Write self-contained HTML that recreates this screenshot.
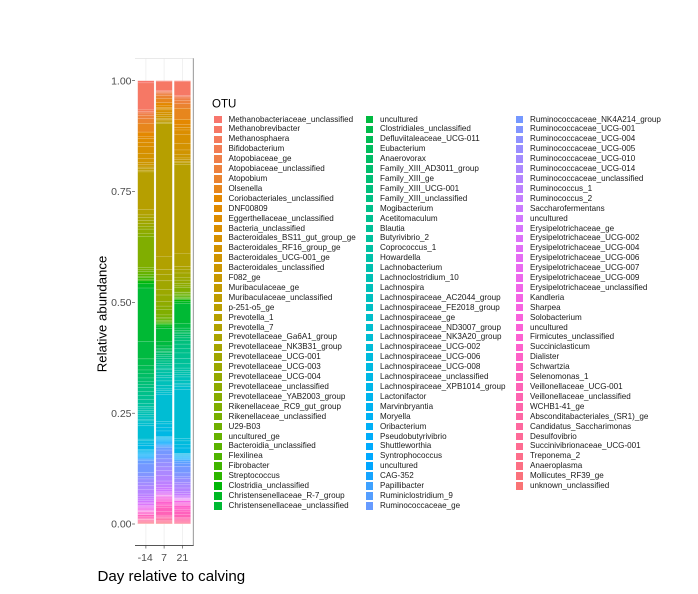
<!DOCTYPE html>
<html>
<head>
<meta charset="utf-8">
<style>
  html,body{margin:0;padding:0;background:#fff;}
  #wrap{position:relative;width:698px;height:594px;overflow:hidden;background:#fff;font-family:"Liberation Sans",Arial,sans-serif;}
  svg{position:absolute;left:0;top:0;}
  .lg{position:absolute;top:114.55px;font-size:8.1px;color:#1a1a1a;}
  .lg div{position:relative;height:9.91px;line-height:9.91px;padding-left:14.5px;white-space:nowrap;}
  .lg i{position:absolute;left:0;top:1.2px;width:7.5px;height:7.5px;}
</style>
</head>
<body>
<div id="wrap">
<svg width="698" height="594" viewBox="0 0 698 594" xmlns="http://www.w3.org/2000/svg">
  <rect x="0" y="0" width="698" height="594" fill="#fff"/>
  <g stroke="#ebebeb" stroke-width="0.7">
    <line x1="145.9" y1="58.5" x2="145.9" y2="545.5"/>
    <line x1="164.1" y1="58.5" x2="164.1" y2="545.5"/>
    <line x1="182.4" y1="58.5" x2="182.4" y2="545.5"/>
  </g>
  <line x1="135" y1="58.5" x2="193.3" y2="58.5" stroke="#e2e2e2" stroke-width="0.7"/>
  <g id="bars"></g>
  <line x1="193.3" y1="58.3" x2="193.3" y2="545.8" stroke="#8a8a8a" stroke-width="0.9"/>
  <line x1="135" y1="545.5" x2="193.6" y2="545.5" stroke="#555" stroke-width="0.9"/>
  <g stroke="#333" stroke-width="0.6">
    <line x1="132" y1="80.7" x2="135" y2="80.7"/>
    <line x1="132" y1="191.5" x2="135" y2="191.5"/>
    <line x1="132" y1="302.3" x2="135" y2="302.3"/>
    <line x1="132" y1="413.2" x2="135" y2="413.2"/>
    <line x1="132" y1="524" x2="135" y2="524"/>
    <line x1="145.9" y1="545.5" x2="145.9" y2="548.5"/>
    <line x1="164.1" y1="545.5" x2="164.1" y2="548.5"/>
    <line x1="182.4" y1="545.5" x2="182.4" y2="548.5"/>
  </g>
  <g font-family="Liberation Sans, Arial, sans-serif" font-size="10.5" fill="#4d4d4d" text-anchor="end">
    <text x="131.5" y="84.4">1.00</text>
    <text x="131.5" y="195.2">0.75</text>
    <text x="131.5" y="306">0.50</text>
    <text x="131.5" y="416.9">0.25</text>
    <text x="131.5" y="527.7">0.00</text>
  </g>
  <g font-family="Liberation Sans, Arial, sans-serif" font-size="10.5" fill="#4d4d4d" text-anchor="middle">
    <text x="145.2" y="561">-14</text>
    <text x="164.1" y="561">7</text>
    <text x="182.4" y="561">21</text>
  </g>
  <text x="97.5" y="581" font-family="Liberation Sans, Arial, sans-serif" font-size="15.1" fill="#000">Day relative to calving</text>
  <text transform="translate(106.5,314) rotate(-90)" text-anchor="middle" font-family="Liberation Sans, Arial, sans-serif" font-size="13.2" fill="#000">Relative abundance</text>
  <text x="212" y="107.5" font-family="Liberation Sans, Arial, sans-serif" font-size="11.5" fill="#000">OTU</text>
</svg>

<div class="lg" style="left:214px;">
<div><i></i>Methanobacteriaceae_unclassified</div>
<div><i></i>Methanobrevibacter</div>
<div><i></i>Methanosphaera</div>
<div><i></i>Bifidobacterium</div>
<div><i></i>Atopobiaceae_ge</div>
<div><i></i>Atopobiaceae_unclassified</div>
<div><i></i>Atopobium</div>
<div><i></i>Olsenella</div>
<div><i></i>Coriobacteriales_unclassified</div>
<div><i></i>DNF00809</div>
<div><i></i>Eggerthellaceae_unclassified</div>
<div><i></i>Bacteria_unclassified</div>
<div><i></i>Bacteroidales_BS11_gut_group_ge</div>
<div><i></i>Bacteroidales_RF16_group_ge</div>
<div><i></i>Bacteroidales_UCG-001_ge</div>
<div><i></i>Bacteroidales_unclassified</div>
<div><i></i>F082_ge</div>
<div><i></i>Muribaculaceae_ge</div>
<div><i></i>Muribaculaceae_unclassified</div>
<div><i></i>p-251-o5_ge</div>
<div><i></i>Prevotella_1</div>
<div><i></i>Prevotella_7</div>
<div><i></i>Prevotellaceae_Ga6A1_group</div>
<div><i></i>Prevotellaceae_NK3B31_group</div>
<div><i></i>Prevotellaceae_UCG-001</div>
<div><i></i>Prevotellaceae_UCG-003</div>
<div><i></i>Prevotellaceae_UCG-004</div>
<div><i></i>Prevotellaceae_unclassified</div>
<div><i></i>Prevotellaceae_YAB2003_group</div>
<div><i></i>Rikenellaceae_RC9_gut_group</div>
<div><i></i>Rikenellaceae_unclassified</div>
<div><i></i>U29-B03</div>
<div><i></i>uncultured_ge</div>
<div><i></i>Bacteroidia_unclassified</div>
<div><i></i>Flexilinea</div>
<div><i></i>Fibrobacter</div>
<div><i></i>Streptococcus</div>
<div><i></i>Clostridia_unclassified</div>
<div><i></i>Christensenellaceae_R-7_group</div>
<div><i></i>Christensenellaceae_unclassified</div>
</div>

<div class="lg" style="left:365.5px;">
<div><i></i>uncultured</div>
<div><i></i>Clostridiales_unclassified</div>
<div><i></i>Defluviitaleaceae_UCG-011</div>
<div><i></i>Eubacterium</div>
<div><i></i>Anaerovorax</div>
<div><i></i>Family_XIII_AD3011_group</div>
<div><i></i>Family_XIII_ge</div>
<div><i></i>Family_XIII_UCG-001</div>
<div><i></i>Family_XIII_unclassified</div>
<div><i></i>Mogibacterium</div>
<div><i></i>Acetitomaculum</div>
<div><i></i>Blautia</div>
<div><i></i>Butyrivibrio_2</div>
<div><i></i>Coprococcus_1</div>
<div><i></i>Howardella</div>
<div><i></i>Lachnobacterium</div>
<div><i></i>Lachnoclostridium_10</div>
<div><i></i>Lachnospira</div>
<div><i></i>Lachnospiraceae_AC2044_group</div>
<div><i></i>Lachnospiraceae_FE2018_group</div>
<div><i></i>Lachnospiraceae_ge</div>
<div><i></i>Lachnospiraceae_ND3007_group</div>
<div><i></i>Lachnospiraceae_NK3A20_group</div>
<div><i></i>Lachnospiraceae_UCG-002</div>
<div><i></i>Lachnospiraceae_UCG-006</div>
<div><i></i>Lachnospiraceae_UCG-008</div>
<div><i></i>Lachnospiraceae_unclassified</div>
<div><i></i>Lachnospiraceae_XPB1014_group</div>
<div><i></i>Lactonifactor</div>
<div><i></i>Marvinbryantia</div>
<div><i></i>Moryella</div>
<div><i></i>Oribacterium</div>
<div><i></i>Pseudobutyrivibrio</div>
<div><i></i>Shuttleworthia</div>
<div><i></i>Syntrophococcus</div>
<div><i></i>uncultured</div>
<div><i></i>CAG-352</div>
<div><i></i>Papillibacter</div>
<div><i></i>Ruminiclostridium_9</div>
<div><i></i>Ruminococcaceae_ge</div>
</div>

<div class="lg" style="left:515.5px;">
<div><i></i>Ruminococcaceae_NK4A214_group</div>
<div><i></i>Ruminococcaceae_UCG-001</div>
<div><i></i>Ruminococcaceae_UCG-004</div>
<div><i></i>Ruminococcaceae_UCG-005</div>
<div><i></i>Ruminococcaceae_UCG-010</div>
<div><i></i>Ruminococcaceae_UCG-014</div>
<div><i></i>Ruminococcaceae_unclassified</div>
<div><i></i>Ruminococcus_1</div>
<div><i></i>Ruminococcus_2</div>
<div><i></i>Saccharofermentans</div>
<div><i></i>uncultured</div>
<div><i></i>Erysipelotrichaceae_ge</div>
<div><i></i>Erysipelotrichaceae_UCG-002</div>
<div><i></i>Erysipelotrichaceae_UCG-004</div>
<div><i></i>Erysipelotrichaceae_UCG-006</div>
<div><i></i>Erysipelotrichaceae_UCG-007</div>
<div><i></i>Erysipelotrichaceae_UCG-009</div>
<div><i></i>Erysipelotrichaceae_unclassified</div>
<div><i></i>Kandleria</div>
<div><i></i>Sharpea</div>
<div><i></i>Solobacterium</div>
<div><i></i>uncultured</div>
<div><i></i>Firmicutes_unclassified</div>
<div><i></i>Succiniclasticum</div>
<div><i></i>Dialister</div>
<div><i></i>Schwartzia</div>
<div><i></i>Selenomonas_1</div>
<div><i></i>Veillonellaceae_UCG-001</div>
<div><i></i>Veillonellaceae_unclassified</div>
<div><i></i>WCHB1-41_ge</div>
<div><i></i>Absconditabacteriales_(SR1)_ge</div>
<div><i></i>Candidatus_Saccharimonas</div>
<div><i></i>Desulfovibrio</div>
<div><i></i>Succinivibrionaceae_UCG-001</div>
<div><i></i>Treponema_2</div>
<div><i></i>Anaeroplasma</div>
<div><i></i>Mollicutes_RF39_ge</div>
<div><i></i>unknown_unclassified</div>
</div>
</div>

<script>
(function(){
  function hcl(h,c,l){
    var WX=95.047,WY=100,WZ=108.883;
    var den=WX+15*WY+3*WZ, uN=4*WX/den, vN=9*WY/den;
    var hr=h*Math.PI/180, U=c*Math.cos(hr), V=c*Math.sin(hr);
    var Y=WY*(l>7.999592?Math.pow((l+16)/116,3):l/903.3);
    var u=U/(13*l)+uN, v=V/(13*l)+vN;
    var X=9*Y*u/(4*v);
    var Z=-X/3-5*Y+3*Y/v;
    function g(t){t=t>0.00304?1.055*Math.pow(t,1/2.4)-0.055:12.92*t;t=Math.max(0,Math.min(1,t));return Math.round(t*255);}
    var R=g((3.240479*X-1.537150*Y-0.498535*Z)/WY);
    var G=g((-0.969256*X+1.875992*Y+0.041556*Z)/WY);
    var B=g((0.055648*X-0.204043*Y+1.057311*Z)/WY);
    return 'rgb('+R+','+G+','+B+')';
  }
  var N=118, cols=[];
  for(var i=0;i<N;i++) cols.push(hcl(15+360*i/N,100,65));

  var d1=[.005,.060,.005,.003,.005,.008,.010,.020,.010,.005,
  .008,.010,.015,.012,.008,.006,.005,.004,.004,.003,
  .085,.012,.006,.006,.008,.006,.006,.010,.006,.070,
  .006,.004,.006,.005,.003,.004,.003,.006,.010,.120,
  .040,.015,.010,.008,.010,.008,.007,.006,.010,.008,
  .010,.008,.007,.004,.005,.004,.005,.006,.005,.004,
  .005,.006,.030,.004,.005,.005,.010,.002,.002,.002,
  .002,.002,.002,.002,.002,.002,.002,.002,.003,.007,
  .020,.008,.006,.008,.006,.010,.010,.006,.005,.004,
  .004,.003,.003,.002,.002,.002,.002,.002,.002,.001,
  .001,.001,.001,.003,.002,.001,.004,.003,.002,.001,
  .001,.002,.001,.002,.002,.001,.0006,.001];
  var d2=[.002,.021,.002,.002,.003,.004,.006,.010,.006,.004,
  .003,.003,.006,.005,.004,.004,.003,.003,.003,.003,
  .300,.030,.010,.015,.020,.012,.015,.010,.008,.012,
  .005,.004,.003,.003,.002,.002,.002,.004,.005,.030,
  .010,.005,.004,.003,.003,.004,.004,.005,.006,.005,
  .006,.005,.004,.006,.006,.005,.008,.010,.008,.004,
  .004,.005,.060,.006,.008,.008,.012,.002,.002,.002,
  .002,.002,.002,.002,.002,.002,.002,.003,.003,.005,
  .010,.010,.008,.010,.008,.012,.012,.008,.006,.005,
  .004,.003,.002,.002,.002,.001,.001,.001,.003,.002,
  .002,.002,.002,.006,.004,.003,.010,.008,.004,.002,
  .002,.003,.002,.002,.002,.001,.001,.001];
  var d3=[.002,.032,.002,.003,.005,.008,.010,.025,.012,.006,
  .006,.010,.020,.015,.010,.008,.004,.004,.003,.004,
  .200,.030,.006,.008,.010,.006,.007,.006,.004,.010,
  .002,.003,.003,.003,.002,.002,.002,.004,.005,.045,
  .010,.005,.004,.003,.004,.006,.006,.008,.010,.010,
  .012,.012,.010,.005,.005,.004,.006,.008,.006,.004,
  .004,.006,.110,.006,.008,.008,.012,.0015,.0015,.0015,
  .0015,.0015,.0015,.0015,.0015,.0015,.0015,.003,.004,.007,
  .015,.008,.005,.008,.005,.008,.008,.005,.004,.003,
  .002,.001,.001,.001,.001,.001,.001,.001,.003,.002,
  .002,.002,.002,.005,.004,.003,.008,.006,.003,.002,
  .002,.003,.002,.001,.001,.001,0,0];
  var data=[d1,d2,d3], centers=[145.9,164.1,182.4], y0=524, s=443.3, bw=16.4;
  var ns='http://www.w3.org/2000/svg', g=document.getElementById('bars');
  data.forEach(function(d,b){
    var tot=0; d.forEach(function(x){tot+=x;});
    var cum=0;
    for(var i=0;i<N;i++){
      var val=(d[i]||0)/tot; if(val<=0) continue;
      var r=document.createElementNS(ns,'rect');
      r.setAttribute('x',(centers[b]-bw/2).toFixed(2));
      r.setAttribute('y',(y0-(1-cum)*s).toFixed(3));
      r.setAttribute('width',bw);
      r.setAttribute('height',(val*s).toFixed(3));
      r.setAttribute('fill',cols[i]);
      r.setAttribute('stroke','#ffffff');
      r.setAttribute('stroke-opacity','0.35');
      r.setAttribute('stroke-width','0.4');
      g.appendChild(r);
      cum+=val;
    }
  });
  var keys=document.querySelectorAll('.lg i');
  for(var k=0;k<keys.length;k++) keys[k].style.background=cols[k];
})();
</script>
</body>
</html>
